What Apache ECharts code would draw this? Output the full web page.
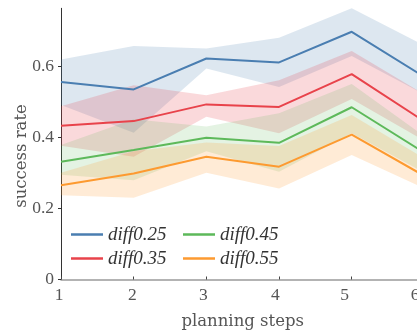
<!DOCTYPE html>
<html>
<head>
<meta charset="utf-8">
<script src="https://cdn.jsdelivr.net/npm/echarts@6/dist/echarts.min.js"></script>
<style>
html,body{margin:0;padding:0;background:#fff;}
#chart{width:417px;height:335px;}
</style>
</head>
<body>
<div id="chart"></div>
<script>
// ---- data ----
const steps = ['1', '2', '3', '4', '5', '6'];
const seriesNames = ['diff0.25', 'diff0.35', 'diff0.45', 'diff0.55'];
const yTicks = [0, 0.2, 0.4, 0.6];

const mean025 = [0.555, 0.534, 0.621, 0.610, 0.696, 0.569];
const low025  = [0.490, 0.412, 0.593, 0.541, 0.628, 0.520];
const high025 = [0.618, 0.656, 0.649, 0.679, 0.762, 0.657];

const mean035 = [0.432, 0.445, 0.492, 0.485, 0.577, 0.444];
const low035  = [0.376, 0.345, 0.457, 0.411, 0.507, 0.390];
const high035 = [0.487, 0.546, 0.518, 0.560, 0.642, 0.520];

const mean045 = [0.331, 0.364, 0.398, 0.384, 0.484, 0.356];
const low045  = [0.294, 0.279, 0.360, 0.303, 0.411, 0.300];
const high045 = [0.378, 0.450, 0.430, 0.467, 0.549, 0.402];

const mean055 = [0.265, 0.298, 0.345, 0.317, 0.407, 0.291];
const low055  = [0.237, 0.230, 0.300, 0.256, 0.350, 0.256];
const high055 = [0.300, 0.360, 0.385, 0.375, 0.462, 0.340];

const means = [mean025, mean035, mean045, mean055];
const lows = [low025, low035, low045, low055];
const highs = [high025, high035, high045, high055];
const lineColors = ['#4a7eb1', '#e8434b', '#5db95a', '#fd9a30'];
const fillColors = ['rgba(74,126,177,0.19)', 'rgba(232,67,75,0.2)', 'rgba(93,185,90,0.17)', 'rgba(253,154,48,0.2)'];

const series = [];
for (let i = 0; i < 4; i++) {
  series.push({
    type: 'line', name: '_lo' + i, stack: 'band' + i, data: lows[i],
    symbol: 'none', lineStyle: { opacity: 0 }, silent: true, z: 1
  });
  series.push({
    type: 'line', name: '_band' + i, stack: 'band' + i,
    data: highs[i].map((h, k) => +(h - lows[i][k]).toFixed(4)),
    symbol: 'none', lineStyle: { opacity: 0 }, areaStyle: { color: fillColors[i], opacity: 1 },
    silent: true, z: 1
  });
}
for (let i = 0; i < 4; i++) {
  series.push({
    type: 'line', name: seriesNames[i], data: means[i], symbol: 'none',
    color: lineColors[i], lineStyle: { color: lineColors[i], width: 2 }, z: 3
  });
}

const serif = 'Liberation Serif';
const nameFont = 'DejaVu Serif';
// small leftward shifts of x tick labels (px), as in the reference
const labelShift = [2, 1.2, 3, 3.6, 7.2, 9.4];
const rich = {};
labelShift.forEach((s, i) => {
  rich['l' + i] = { fontFamily: serif, fontSize: 17.5, color: '#555', padding: [0, 2 * s, 0, 0] };
});

const legendCommon = {
  orient: 'vertical', top: 225, icon: 'rect', padding: 0,
  itemWidth: 32, itemHeight: 2.5, itemGap: 5,
  textStyle: { fontFamily: serif, fontStyle: 'italic', fontSize: 19, color: '#333' }
};
const chart = echarts.init(document.getElementById('chart'), null, { renderer: 'canvas' });
chart.setOption({
  animation: false,
  backgroundColor: '#fff',
  grid: { left: 61, width: 363.4, top: 8.3, height: 271.2, containLabel: false, outerBoundsMode: 'none' },
  legend: [
    Object.assign({ data: [seriesNames[0], seriesNames[1]], left: 71 }, legendCommon),
    Object.assign({ data: [seriesNames[2], seriesNames[3]], left: 183 }, legendCommon)
  ],
  xAxis: {
    type: 'category', data: steps, boundaryGap: false,
    name: 'planning steps', nameLocation: 'middle', nameGap: 34,
    nameTextStyle: { fontFamily: nameFont, fontSize: 16.5, color: '#555' },
    axisLine: { lineStyle: { color: '#9a9a9a', width: 1.5 } },
    axisTick: { inside: true, length: 3, lineStyle: { color: '#444' } },
    axisLabel: {
      fontFamily: serif, fontSize: 17.5, color: '#555', margin: 7, showMaxLabel: true,
      formatter: (v, idx) => '{l' + idx + '|' + v + '}', rich: rich
    },
    splitLine: { show: false }
  },
  yAxis: {
    type: 'value', min: 0, max: 0.762,
    axisLine: { show: true, lineStyle: { color: '#333', width: 1 } },
    axisTick: { show: true, length: 3, customValues: yTicks, lineStyle: { color: '#333' } },
    axisLabel: {
      fontFamily: serif, fontSize: 17.5, color: '#555', margin: 7, customValues: yTicks,
      formatter: v => (v === 0 ? '0' : v.toFixed(1))
    },
    splitLine: { show: false }
  },
  graphic: [{
    type: 'text', x: 13, y: 156, rotation: Math.PI / 2,
    style: { text: 'success rate', fontFamily: nameFont, fontSize: 16.5, fill: '#555', align: 'center', verticalAlign: 'top' }
  }],
  series: series
});
</script>
</body>
</html>
